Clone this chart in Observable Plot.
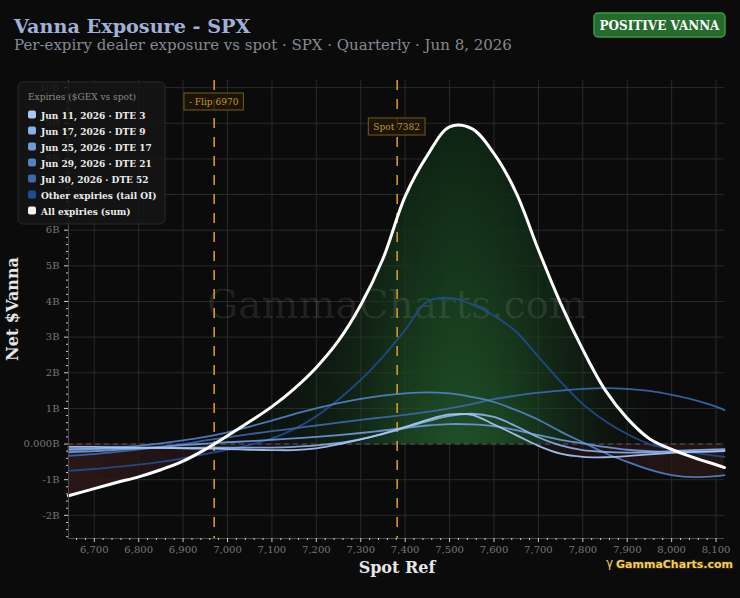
<!DOCTYPE html>
<html><head><meta charset="utf-8">
<script src="https://cdn.jsdelivr.net/npm/d3@7"></script>
<script src="https://cdn.jsdelivr.net/npm/@observablehq/plot@0.6"></script>
<style>
body{margin:0;background:#0b0b0b;}
#wrap{position:relative;width:740px;height:598px;background:#0b0b0b;overflow:hidden}
svg{display:block}
</style></head><body><div id="wrap"></div>
<script>
// ---- data ----
const spotRef = [6642, 6700, 6750, 6800, 6850, 6900, 6950, 7000, 7050, 7100, 7150, 7200, 7250, 7300, 7350, 7400, 7450, 7500, 7550, 7600, 7650, 7700, 7750, 7800, 7850, 7900, 7950, 8000, 8050, 8100, 8119];
const allExpiries = [-1.45, -1.25, -1.08, -0.92, -0.72, -0.48, -0.15, 0.23, 0.63, 1.05, 1.55, 2.15, 2.9, 3.9, 5.2, 6.95, 8.1, 8.9, 8.85, 8.15, 7.05, 5.45, 3.95, 2.65, 1.52, 0.72, 0.15, -0.15, -0.38, -0.58, -0.66];
const jun11 = [-0.08, -0.08, -0.09, -0.1, -0.11, -0.12, -0.13, -0.14, -0.16, -0.17, -0.17, -0.12, -0.01, 0.13, 0.29, 0.48, 0.68, 0.83, 0.82, 0.55, 0.25, -0.05, -0.27, -0.36, -0.37, -0.34, -0.29, -0.25, -0.22, -0.2, -0.19];
const jun17 = [-0.14, -0.13, -0.12, -0.12, -0.11, -0.11, -0.1, -0.1, -0.1, -0.1, -0.08, -0.04, 0.03, 0.14, 0.28, 0.45, 0.64, 0.79, 0.85, 0.76, 0.5, 0.19, -0.04, -0.17, -0.22, -0.24, -0.23, -0.2, -0.17, -0.15, -0.14];
const jun25 = [-0.23, -0.2, -0.16, -0.12, -0.08, -0.03, 0.01, 0.05, 0.08, 0.12, 0.16, 0.2, 0.25, 0.31, 0.38, 0.45, 0.52, 0.56, 0.55, 0.5, 0.39, 0.25, 0.12, 0.02, -0.08, -0.16, -0.2, -0.22, -0.22, -0.21, -0.2];
const jun29 = [-0.19, -0.15, -0.1, -0.05, 0.02, 0.1, 0.2, 0.33, 0.49, 0.66, 0.84, 1.0, 1.15, 1.27, 1.36, 1.42, 1.45, 1.42, 1.32, 1.18, 0.95, 0.68, 0.35, 0.05, -0.25, -0.5, -0.72, -0.87, -0.93, -0.9, -0.87];
const jul30 = [-0.33, -0.28, -0.22, -0.15, -0.08, 0.0, 0.1, 0.19, 0.28, 0.36, 0.44, 0.52, 0.6, 0.68, 0.75, 0.82, 0.9, 1.0, 1.12, 1.26, 1.36, 1.44, 1.5, 1.55, 1.57, 1.55, 1.49, 1.38, 1.24, 1.05, 0.95];
const otherExp = [-0.75, -0.7, -0.64, -0.58, -0.5, -0.4, -0.28, -0.16, -0.02, 0.16, 0.42, 0.78, 1.25, 1.8, 2.45, 3.2, 4.0, 4.1, 3.92, 3.6, 3.15, 2.45, 1.75, 1.12, 0.65, 0.28, 0.0, -0.15, -0.25, -0.33, -0.36];

const seriesNames = ["Jun 11, 2026 · DTE 3", "Jun 17, 2026 · DTE 9", "Jun 25, 2026 · DTE 17", "Jun 29, 2026 · DTE 21", "Jul 30, 2026 · DTE 52", "Other expiries (tail OI)"];
const seriesColors = ["#a9c8f8", "#8cb0ea", "#6f98d8", "#5381c6", "#3b68ae", "#1f4c92"];
const totalName = "All expiries (sum)";
const totalColor = "#ffffff";
const flipLevel = 6970;
const spotLevel = 7382;
const xTicks = [6700, 6800, 6900, 7000, 7100, 7200, 7300, 7400, 7500, 7600, 7700, 7800, 7900, 8000, 8100];
const yTicks = [-2, -1, 0, 1, 2, 3, 4, 5, 6, 7, 8, 9, 10];

// ---- tables built from the arrays ----
const seriesValues = [jun11, jun17, jun25, jun29, jul30, otherExp];
const lineRows = [];
for (let k = seriesValues.length - 1; k >= 0; k--) {
  seriesValues[k].forEach((v, i) => lineRows.push({x: spotRef[i], y: v, s: seriesNames[k]}));
}
const totalRows = spotRef.map((x, i) => ({x, y: allExpiries[i]}));
const envRows = spotRef.map((x, i) => {
  const vs = [allExpiries[i], ...seriesValues.map(a => a[i])];
  return {x, hi: Math.max(0, ...vs), lo: Math.min(0, ...vs)};
});
const maxTotal = d3.max(allExpiries);
const minLo = d3.min(envRows, d => d.lo);
const xMinor = d3.range(6660, 8120, 20).filter(v => v % 100 !== 0);
const yMinor = d3.range(-13, 51).map(i => i / 5).filter(v => !Number.isInteger(v));

const plot = Plot.plot({
  width: 740, height: 598,
  marginTop: 80, marginLeft: 68, marginRight: 16, marginBottom: 60,
  style: {background: "transparent", color: "#777", fontFamily: "DejaVu Serif", fontSize: "10px"},
  x: {domain: [6642, 8119]},
  y: {domain: [-2.65, 10.2]},
  color: {domain: seriesNames, range: seriesColors},
  marks: [
    Plot.gridX(xTicks, {stroke: "#2a2a2a", strokeOpacity: 1}),
    Plot.gridY(yTicks, {stroke: "#2a2a2a", strokeOpacity: 1}),
    Plot.areaY(envRows, {x: "x", y1: 0, y2: "hi", curve: "catmull-rom", fill: "url(#gv)", className: "gfill"}),
    Plot.areaY(envRows, {x: "x", y1: 0, y2: "lo", curve: "catmull-rom", fill: "#2c1818", className: "rfill"}),
    Plot.text(["GammaCharts.com"], {frameAnchor: "middle", dy: -4, fontSize: 39, fill: "#ffffff", fillOpacity: 0.09, fontFamily: "DejaVu Serif"}),
    Plot.ruleY([0], {stroke: "#5a5a5a", strokeDasharray: "5,4", strokeWidth: 1}),
    Plot.ruleX([flipLevel, spotLevel], {stroke: "#d49a1f", strokeDasharray: "10,9", strokeWidth: 1.6}),
    Plot.line(lineRows, {x: "x", y: "y", z: "s", stroke: "s", strokeWidth: 1.8, strokeOpacity: 0.92, curve: "catmull-rom"}),
    Plot.line(totalRows, {x: "x", y: "y", stroke: totalColor, strokeWidth: 3, curve: "catmull-rom"}),
    Plot.ruleX([6642], {stroke: "#4a4a4a"}),
    Plot.ruleY([-2.65], {stroke: "#4a4a4a"}),
    Plot.axisX(xTicks, {tickSize: 4, tickPadding: 3, stroke: "#cfcfcf", fill: "#777", tickFormat: d3.format(","), label: null}),
    Plot.axisX(xMinor, {tickSize: 2, stroke: "#cfcfcf", tickFormat: () => "", label: null}),
    Plot.axisY(yTicks, {tickSize: 4, tickPadding: 5, stroke: "#cfcfcf", fill: "#777", tickFormat: d => d === 0 ? "0.000B" : `${d}B`, label: null}),
    Plot.axisY(yMinor, {tickSize: 2, stroke: "#cfcfcf", tickFormat: () => "", label: null})
  ]
});
document.getElementById("wrap").appendChild(plot);

const svg = d3.select(plot);
const xs = plot.scale("x"), ys = plot.scale("y");
const defs = svg.insert("defs", ":first-child");
const X0 = xs.apply(spotRef[0]), X1 = xs.apply(spotRef[spotRef.length - 1]);

const gv = defs.append("linearGradient").attr("id", "gv").attr("gradientUnits", "userSpaceOnUse")
  .attr("x1", 0).attr("x2", 0).attr("y1", ys.apply(0)).attr("y2", ys.apply(9));
gv.append("stop").attr("offset", 0).attr("stop-color", "#1f4e26");
gv.append("stop").attr("offset", 1).attr("stop-color", "#0e2313");

function strengthMask(id, strengths) {
  const g = defs.append("linearGradient").attr("id", id + "g").attr("gradientUnits", "userSpaceOnUse")
    .attr("x1", X0).attr("x2", X1).attr("y1", 0).attr("y2", 0);
  spotRef.forEach((s, i) => g.append("stop").attr("offset", (xs.apply(s) - X0) / (X1 - X0))
    .attr("stop-color", "#fff").attr("stop-opacity", strengths[i]));
  const m = defs.append("mask").attr("id", id).attr("maskUnits", "userSpaceOnUse")
    .attr("x", 0).attr("y", 0).attr("width", 740).attr("height", 598);
  m.append("rect").attr("x", X0).attr("y", 0).attr("width", X1 - X0).attr("height", 598).attr("fill", `url(#${id}g)`);
}
strengthMask("mg", allExpiries.map(v => Math.max(0, v) / maxTotal));
strengthMask("mr", envRows.map(d => d.lo < 0 ? 0.45 + 0.5 * d.lo / minLo : 0));
svg.select("g.gfill").attr("mask", "url(#mg)");
svg.select("g.rfill").attr("mask", "url(#mr)");

// ---- header, legend, labels ----
const F = "DejaVu Serif";
function txt(x, y, s, opts = {}) {
  const t = svg.append("text").attr("x", x).attr("y", y).attr("font-family", opts.family || F)
    .attr("font-size", opts.size || 10).attr("fill", opts.fill || "#ddd")
    .attr("text-anchor", opts.anchor || "start").text(s);
  if (opts.bold) t.attr("font-weight", "bold");
  return t;
}
txt(14, 32.5, "Vanna Exposure - SPX", {size: 19.2, bold: true, fill: "#9fb1d8"});
txt(14, 50, "Per-expiry dealer exposure vs spot · SPX · Quarterly · Jun 8, 2026", {size: 15, fill: "#858a93"});
svg.append("rect").attr("x", 594).attr("y", 13).attr("width", 131).attr("height", 24).attr("rx", 4)
  .attr("fill", "#256b2e").attr("stroke", "#3d9a48").attr("stroke-width", 1.5);
txt(659.5, 29.5, "POSITIVE VANNA", {size: 12, bold: true, fill: "#ffffff", anchor: "middle"});

svg.append("rect").attr("x", 18).attr("y", 82).attr("width", 147).attr("height", 142).attr("rx", 5)
  .attr("fill", "#151515").attr("fill-opacity", 0.86).attr("stroke", "#2a2a2a");
txt(28, 100, "Expiries ($GEX vs spot)", {size: 9, fill: "#8a8a8a"});
const legendNames = [...seriesNames, totalName];
const legendColors = [...seriesColors, "#f2f2f2"];
legendNames.forEach((n, i) => {
  const cy = 115 + i * 16;
  svg.append("rect").attr("x", 28).attr("y", cy - 4.5).attr("width", 8).attr("height", 8).attr("rx", 2).attr("fill", legendColors[i]);
  txt(41, cy + 3.5, n, {size: 9, bold: true, fill: "#ececec"});
});

function levelTag(value, label, cy) {
  const cx = xs.apply(value);
  const r = svg.append("rect");
  const t = txt(cx, cy + 3.2, label, {size: 9, fill: "#c8962a", anchor: "middle"});
  const w = t.node().getComputedTextLength() + 10;
  r.attr("x", cx - w / 2).attr("y", cy - 8.5).attr("width", w).attr("height", 17)
    .attr("fill", "#1c1607").attr("fill-opacity", 0.85).attr("stroke", "#7a5c16");
}
levelTag(flipLevel, `- Flip ${flipLevel}`, 101.5);
levelTag(spotLevel, `Spot ${spotLevel}`, 126.5);

svg.append("text").attr("transform", "translate(18,309) rotate(-90)").attr("text-anchor", "middle")
  .attr("font-family", F).attr("font-weight", "bold").attr("font-size", 16).attr("fill", "#e6e6e6").text("Net $Vanna");
txt(397, 573, "Spot Ref", {size: 16, bold: true, fill: "#e6e6e6", anchor: "middle"});
txt(606, 567, "γ", {family: "DejaVu Sans", size: 12, fill: "#f2cf5b"});
txt(616, 568, "GammaCharts.com", {family: "DejaVu Sans", size: 11, bold: true, fill: "#f2cf5b"})
  .attr("stroke", "#2a1e00").attr("stroke-width", 2).attr("paint-order", "stroke");
</script>
</body></html>
